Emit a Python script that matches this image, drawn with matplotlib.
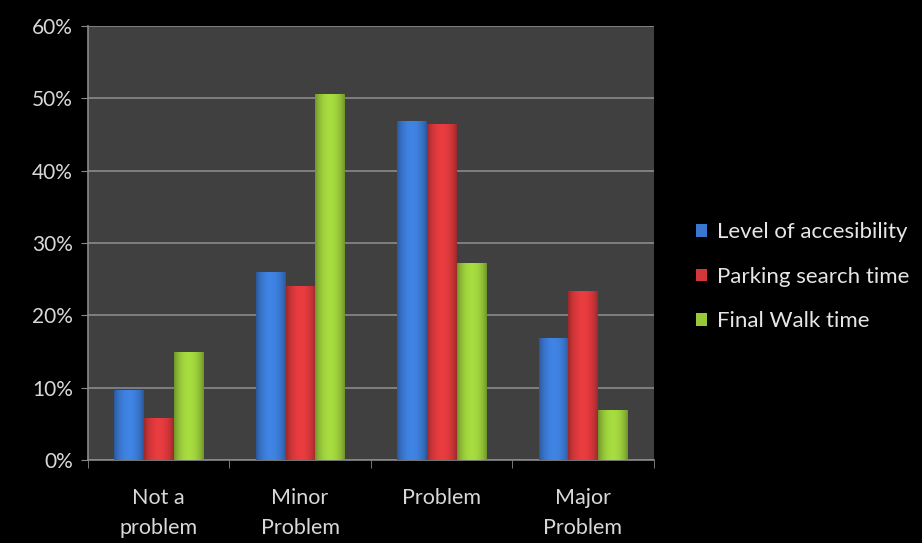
import numpy as np
import matplotlib.pyplot as plt
from matplotlib.colors import to_rgb

categories = ["Not a\nproblem", "Minor\nProblem", "Problem", "Major\nProblem"]
series_names = ["Level of accesibility", "Parking search time", "Final Walk time"]
accessibility = [9.7, 26.0, 46.9, 16.9]
parking = [5.8, 24.0, 46.4, 23.4]
final_walk = [14.9, 50.6, 27.2, 6.9]
colors = ["#3a78d0", "#d4373a", "#98c93a"]

plt.rcParams['font.family'] = ['Lato', 'DejaVu Sans']

fig = plt.figure(figsize=(9.22, 5.43), dpi=100, facecolor="black")
ax = fig.add_axes([0.0954, 0.153, 0.6135, 0.799])
ax.set_facecolor("#404040")

ax.set_xlim(-0.5, 3.5)
ax.set_ylim(0, 60)

x = np.arange(len(categories))
width = 0.21
# horizontal shading profile: darker edges, lighter middle (cylinder look)
t = np.linspace(0, 1, 64)
profile = 0.72 + 0.38 * np.sin(np.pi * t) ** 0.7
for i, (vals, col, name) in enumerate(zip([accessibility, parking, final_walk], colors, series_names)):
    pos = x + (i - 1) * width
    bars = ax.bar(pos, vals, width=width * 0.98, color=col, label=name, zorder=3)
    rgb = np.array(to_rgb(col))
    grad = np.clip(rgb[None, :] * profile[:, None], 0, 1)[None, :, :]
    for b in bars:
        x0, y0 = b.get_x(), b.get_y()
        im = ax.imshow(grad, extent=[x0, x0 + b.get_width(), y0, y0 + b.get_height()],
                       aspect="auto", zorder=4, interpolation="bicubic")
        im.set_clip_path(b)

ax.set_xlim(-0.5, 3.5)
ax.set_ylim(0, 60)
ax.set_yticks(range(0, 61, 10))
ax.set_yticklabels([f"{v}%" for v in range(0, 61, 10)])
ax.yaxis.grid(True, color="#8a8a8a", linewidth=1.2, zorder=0)
ax.set_axisbelow(True)

ax.set_xticks(x)
ax.set_xticklabels(categories, linespacing=1.65)
ax.set_xticks(np.arange(-0.5, 4.0, 1.0), minor=True)
ax.tick_params(axis="x", which="major", length=0, pad=20, labelsize=15.5, labelcolor="#d8d8d8")
ax.tick_params(axis="x", which="minor", length=6, color="#8a8a8a", direction="out")
ax.tick_params(axis="y", length=5, color="#8a8a8a", labelsize=15, labelcolor="#d8d8d8", pad=6)

for side in ["top", "right"]:
    ax.spines[side].set_visible(False)
for side in ["left", "bottom"]:
    ax.spines[side].set_color("#8a8a8a")
    ax.spines[side].set_linewidth(1.2)

leg = fig.legend(loc="center left", bbox_to_anchor=(0.733, 0.49), frameon=False,
                 fontsize=16, labelcolor="#e6e6e6", handlelength=0.5, handleheight=0.5,
                 handletextpad=0.45, labelspacing=1.1)

fig.savefig("out.png", dpi=100, facecolor="black")
